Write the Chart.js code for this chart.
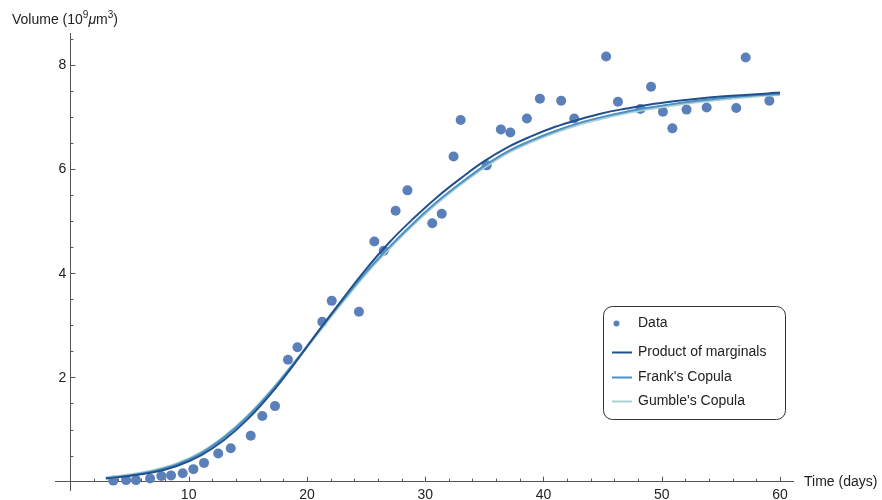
<!DOCTYPE html>
<html>
<head>
<meta charset="utf-8">
<title>Tumour volume</title>
<script src="https://cdn.jsdelivr.net/npm/chart.js@4/dist/chart.umd.min.js"></script>
<style>
  html, body { margin: 0; padding: 0; background: #fff; }
  #wrap { width: 882px; height: 500px; }
</style>
</head>
<body>
<div id="wrap"><canvas id="volumeChart"></canvas></div>
<script>
// Measured data
const dataDays = [3.63, 4.71, 5.55, 6.74, 7.69, 8.51, 9.5, 10.4, 11.3, 12.5, 13.56, 15.25, 16.23, 17.3,
  18.4, 19.2, 21.3, 22.1, 24.4, 25.7, 26.5, 27.5, 28.5, 30.6, 31.4, 32.4, 33.0, 35.2, 36.4, 37.2,
  38.6, 39.7, 41.5, 42.6, 45.3, 46.3, 48.2, 49.1, 50.1, 50.9, 52.1, 53.8, 56.3, 57.1, 59.1];
const dataVolume = [0.02, 0.03, 0.03, 0.06, 0.11, 0.12, 0.16, 0.24, 0.36, 0.54, 0.64, 0.88, 1.26, 1.45,
  2.34, 2.58, 3.07, 3.47, 3.26, 4.61, 4.43, 5.20, 5.59, 4.96, 5.14, 6.24, 6.94, 6.07, 6.76, 6.70,
  6.97, 7.35, 7.31, 6.97, 8.16, 7.29, 7.15, 7.58, 7.10, 6.78, 7.14, 7.18, 7.17, 8.14, 7.31];

// Fitted curves
const fitDays = [3, 5, 7, 9, 11, 13, 15, 17, 19, 21, 23, 25, 27, 29, 31, 33, 35, 37, 39, 41, 43, 45, 47, 49, 51, 53, 55, 57, 59, 60];
const productFit = [0.06, 0.11, 0.18, 0.30, 0.50, 0.80, 1.20, 1.70, 2.28, 2.90, 3.50, 4.08, 4.60, 5.05, 5.46, 5.82, 6.15, 6.42, 6.63, 6.81, 6.95, 7.07, 7.16, 7.24, 7.30, 7.35, 7.39, 7.42, 7.45, 7.47];
const frankFit = [0.07, 0.12, 0.20, 0.33, 0.54, 0.85, 1.25, 1.74, 2.30, 2.89, 3.47, 4.02, 4.51, 4.96, 5.37, 5.73, 6.06, 6.34, 6.55, 6.73, 6.88, 7.00, 7.10, 7.18, 7.25, 7.31, 7.36, 7.40, 7.43, 7.44];
const gumbleFit = [0.07, 0.13, 0.21, 0.34, 0.55, 0.86, 1.26, 1.75, 2.30, 2.88, 3.45, 4.00, 4.49, 4.94, 5.35, 5.71, 6.04, 6.32, 6.53, 6.71, 6.86, 6.98, 7.08, 7.16, 7.23, 7.29, 7.34, 7.38, 7.42, 7.43];

const xTickValues = [10, 20, 30, 40, 50, 60];
const yTickValues = [2, 4, 6, 8];

const FONT = '"Liberation Sans", Arial, sans-serif';
const TEXT = "#222";
const AXIS = "#555";

const toPoints = (xs, ys) => xs.map((x, i) => ({ x: x, y: ys[i] }));

// inward tick marks + y tick labels, Mathematica style
const tickMarks = {
  id: "tickMarks",
  beforeDatasetsDraw(chart) {
    const { ctx, scales: { x, y } } = chart;
    const x0 = x.getPixelForValue(0);
    const y0 = y.getPixelForValue(0);
    ctx.save();
    ctx.strokeStyle = AXIS;
    ctx.lineWidth = 1;
    ctx.beginPath();
    for (let v = 2; v <= 60; v += 2) {
      const px = Math.round(x.getPixelForValue(v)) + 0.5;
      const len = v % 10 === 0 ? 5 : 3;
      ctx.moveTo(px, y0);
      ctx.lineTo(px, y0 - len);
    }
    for (let v = 0.5; v <= 8.5; v += 0.5) {
      const py = Math.round(y.getPixelForValue(v)) + 0.5;
      const len = v % 2 === 0 ? 5 : 3;
      ctx.moveTo(x0, py);
      ctx.lineTo(x0 + len, py);
    }
    ctx.stroke();

    // y labels sit left of the axis at x = 0
    ctx.fillStyle = TEXT;
    ctx.font = "14px " + FONT;
    ctx.textAlign = "right";
    ctx.textBaseline = "middle";
    y.ticks.forEach((t) => {
      ctx.fillText(String(t.value), x0 - 4, y.getPixelForValue(t.value) + 0.5);
    });
    ctx.restore();
  },
};

// axis labels and framed legend
const annotations = {
  id: "annotations",
  afterDraw(chart) {
    const { ctx, scales: { x, y } } = chart;
    ctx.save();
    ctx.fillStyle = TEXT;
    ctx.textBaseline = "alphabetic";
    ctx.textAlign = "left";

    // y label: Volume (10^9 μm^3)
    let tx = 12;
    const base = 24;
    const parts = [
      ["Volume (10", "14px", 0],
      ["9", "10px", -6],
      ["\u03bc", "italic 14px", 0],
      ["m", "14px", 0],
      ["3", "10px", -6],
      [")", "14px", 0],
    ];
    parts.forEach(([t, f, dy]) => {
      ctx.font = f + " " + FONT;
      ctx.fillText(t, tx, base + dy);
      tx += ctx.measureText(t).width;
    });

    // x label
    ctx.font = "14px " + FONT;
    ctx.fillText("Time (days)", 804, y.getPixelForValue(0) + 4);

    // legend box
    const bx = 603.5, by = 306.5, bw = 182, bh = 113, r = 9;
    ctx.beginPath();
    ctx.roundRect(bx, by, bw, bh, r);
    ctx.fillStyle = "#fff";
    ctx.fill();
    ctx.strokeStyle = "#333";
    ctx.lineWidth = 1;
    ctx.stroke();

    const rows = [323, 352, 377, 401];
    chart.data.datasets.forEach((ds, i) => {
      const ry = rows[i];
      if (i === 0) {
        ctx.beginPath();
        ctx.arc(616.5, ry + 0.5, 3, 0, Math.PI * 2);
        ctx.fillStyle = ds.backgroundColor;
        ctx.fill();
      } else {
        ctx.beginPath();
        ctx.moveTo(612, ry + 0.5);
        ctx.lineTo(632, ry + 0.5);
        ctx.strokeStyle = ds.borderColor;
        ctx.lineWidth = 2;
        ctx.stroke();
      }
      ctx.fillStyle = TEXT;
      ctx.font = "14px " + FONT;
      ctx.textBaseline = "middle";
      ctx.fillText(ds.label, 638, ry);
    });
    ctx.restore();
  },
};

const ctx = document.getElementById("volumeChart").getContext("2d");
const volumeChart = new Chart(ctx, {
  type: "scatter",
  data: {
    datasets: [
      {
        label: "Data",
        data: toPoints(dataDays, dataVolume),
        backgroundColor: "#5b80b9",
        borderWidth: 0,
        pointRadius: 5,
        showLine: false,
        clip: false,
        order: 4,
      },
      {
        label: "Product of marginals",
        data: toPoints(fitDays, productFit),
        borderColor: "#21508f",
        borderWidth: 2,
        pointRadius: 0,
        showLine: true,
        tension: 0.4,
        order: 1,
      },
      {
        label: "Frank's Copula",
        data: toPoints(fitDays, frankFit),
        borderColor: "#4f90c3",
        borderWidth: 2,
        pointRadius: 0,
        showLine: true,
        tension: 0.4,
        order: 2,
      },
      {
        label: "Gumble's Copula",
        data: toPoints(fitDays, gumbleFit),
        borderColor: "#a9d0d3",
        borderWidth: 3,
        pointRadius: 0,
        showLine: true,
        tension: 0.4,
        order: 3,
      },
    ],
  },
  options: {
    responsive: true,
    maintainAspectRatio: false,
    animation: false,
    events: [],
    layout: { padding: { left: 55, right: 89, top: 33, bottom: 10 } },
    plugins: {
      legend: { display: false },
      tooltip: { enabled: false },
    },
    scales: {
      x: {
        type: "linear",
        position: { y: 0 },
        min: -1.3,
        max: 61.1,
        grid: { display: false, drawTicks: false },
        border: { display: true, color: AXIS, width: 1 },
        ticks: { color: TEXT, font: { family: FONT, size: 14 }, padding: 5, maxRotation: 0 },
        afterBuildTicks: (scale) => {
          scale.ticks = xTickValues.map((v) => ({ value: v }));
        },
      },
      y: {
        type: "linear",
        position: { x: 0 },
        min: -0.16,
        max: 8.61,
        grid: { display: false, drawTicks: false },
        border: { display: true, color: AXIS, width: 1 },
        ticks: { display: false, padding: 0 },
        afterBuildTicks: (scale) => {
          scale.ticks = yTickValues.map((v) => ({ value: v }));
        },
      },
    },
  },
  plugins: [tickMarks, annotations],
});
</script>
</body>
</html>
